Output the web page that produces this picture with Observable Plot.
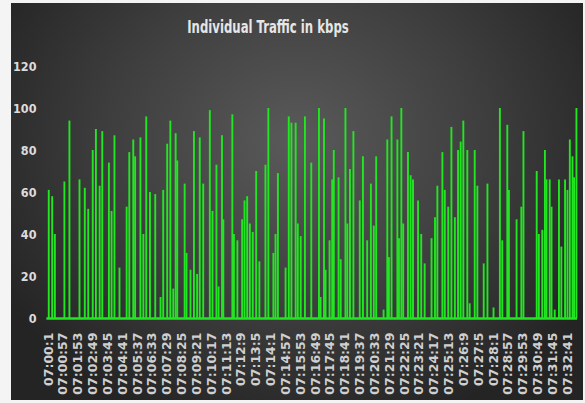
<!DOCTYPE html>
<html>
<head>
<meta charset="utf-8">
<script src="https://cdn.jsdelivr.net/npm/d3@7"></script>
<script src="https://cdn.jsdelivr.net/npm/@observablehq/plot@0.6"></script>
<style>
  html, body { margin: 0; padding: 0; background: #f4f4f4; }
  #wrap { position: relative; width: 585px; height: 403px; overflow: hidden; background: #f4f4f4; }
  #bg { position: absolute; left: 11px; top: 3px; width: 572px; height: 397px;
        background: radial-gradient(ellipse 60% 75% at 50% 35%, #5a5a5a 0%, #3e3e3e 55%, #242424 100%); }
  #title { position: absolute; left: 0; width: 536px; top: 17px; text-align: center;
           font-family: "DejaVu Sans Condensed", "DejaVu Sans", sans-serif; font-weight: bold;
           font-size: 13px; color: #e6e6e6; transform: scaleY(1.3); transform-origin: center top; }
  #chart { position: absolute; left: 0; top: 0; }
  #chart svg { background: transparent; }
</style>
</head>
<body>
<div id="wrap">
  <div id="bg"></div>
  <div id="title">Individual Traffic in kbps</div>
  <div id="chart"></div>
</div>
<script>
// Tick labels as printed on the x axis (seconds not zero-padded)
const tickLabels = ["07:00:1","07:00:57","07:01:53","07:02:49","07:03:45","07:04:41","07:05:37","07:06:33","07:07:29","07:08:25","07:09:21","07:10:17","07:11:13","07:12:9","07:13:5","07:14:1","07:14:57","07:15:53","07:16:49","07:17:45","07:18:41","07:19:37","07:20:33","07:21:29","07:22:25","07:23:21","07:24:17","07:25:13","07:26:9","07:27:5","07:28:1","07:28:57","07:29:53","07:30:49","07:31:45","07:32:41"];
const yTicks = [0, 20, 40, 60, 80, 100, 120];

// Traffic spikes: seconds after 07:00:00 and kbps
const spikeSec = [2,15,25,61,80,118,138,151,168,180,194,204,229,239,250,269,296,306,321,328,348,359,370,384,404,424,434,449,461,472,481,487,515,522,537,550,562,572,585,610,620,635,643,656,661,695,701,714,732,741,751,761,772,785,797,820,831,850,858,867,896,908,918,934,942,953,969,993,1022,1028,1041,1047,1062,1072,1078,1096,1104,1122,1129,1139,1152,1176,1188,1204,1218,1229,1238,1266,1280,1286,1296,1318,1324,1333,1340,1358,1368,1377,1396,1408,1421,1447,1460,1469,1488,1497,1510,1522,1535,1547,1557,1567,1582,1591,1610,1620,1644,1658,1681,1705,1714,1733,1739,1768,1786,1794,1844,1852,1865,1875,1881,1893,1900,1912,1928,1937,1951,1960,1969,1979,1985,1994];
const spikeKbps = [61,58,40,65,94,66,62,52,80,90,63,89,74,51,87,24,53,79,85,77,86,40,96,60,59,10,61,83,94,14,88,75,64,31,23,89,21,86,64,99,51,73,15,87,47,97,40,37,47,56,58,45,41,70,27,73,100,31,40,69,24,96,93,93,45,39,96,74,100,10,95,23,37,66,80,67,28,100,45,71,89,56,77,37,64,44,77,4,85,29,96,85,38,100,45,79,68,66,56,40,26,38,48,63,79,61,53,91,48,80,84,94,80,7,80,63,26,64,5,100,37,92,61,47,53,89,70,40,42,80,66,66,53,4,66,34,66,61,85,77,67,100];
const startSec = 1, endSec = 1998;

const toSec = s => { const [h, m, x] = s.split(":").map(Number); return (h - 7) * 3600 + m * 60 + x; };
const tickSec = tickLabels.map(toSec);
const labelOf = new Map(tickSec.map((s, i) => [s, tickLabels[i]]));
const spikes = spikeSec.map((s, i) => ({sec: s, kbps: spikeKbps[i]}));

const green = "#22e622";
const chart = Plot.plot({
  width: 585,
  height: 403,
  marginLeft: 48,
  marginRight: 8,
  marginTop: 66,
  marginBottom: 85,
  style: {background: "transparent", color: "#d8d8d8"},
  x: {domain: [startSec, endSec]},
  y: {domain: [0, 120]},
  marks: [
    Plot.ruleX(spikes, {x: "sec", y1: 0, y2: "kbps", stroke: green, strokeWidth: 1.9}),
    Plot.ruleY([0], {x1: startSec - 6, x2: endSec, stroke: green, strokeWidth: 2.4}),
    Plot.axisY({ticks: yTicks, tickSize: 0, tickPadding: 12, label: null,
      fontFamily: "DejaVu Sans Condensed, DejaVu Sans, sans-serif", fontWeight: "bold",
      fontSize: 12.5, fill: "#dcdcdc"}),
    Plot.axisX({ticks: tickSec, tickFormat: d => labelOf.get(d), tickRotate: -90,
      tickSize: 0, tickPadding: 14, label: null,
      fontFamily: "DejaVu Sans, sans-serif", fontWeight: "bold",
      fontSize: 12.5, fill: "#cfcfcf"})
  ]
});
document.getElementById("chart").appendChild(chart);
</script>
</body>
</html>
